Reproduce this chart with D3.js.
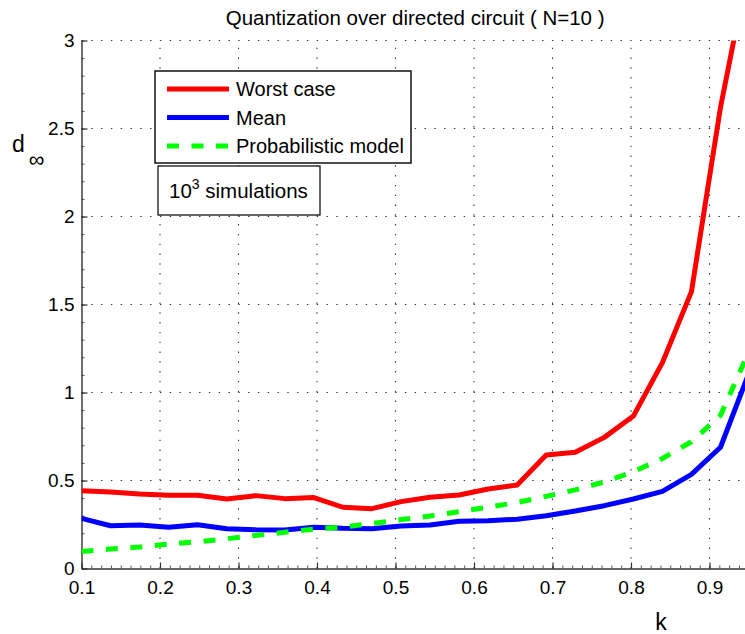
<!DOCTYPE html>
<html>
<head>
<meta charset="utf-8">
<script src="https://cdn.jsdelivr.net/npm/d3@7"></script>
<style>
  html, body { margin: 0; padding: 0; background: #fff; overflow: hidden; }
  svg { display: block; font-family: "Liberation Sans", Arial, sans-serif; }
</style>
</head>
<body>
<div id="chart"><svg></svg></div>
<script>
// k values (sample points of all three curves)
const kValues = [0.1, 0.137, 0.174, 0.211, 0.248, 0.285, 0.322, 0.359, 0.396, 0.433, 0.47, 0.507,
                 0.544, 0.581, 0.618, 0.655, 0.692, 0.729, 0.766, 0.803, 0.84, 0.877, 0.914, 0.951];
const worstCase = [0.442, 0.435, 0.423, 0.416, 0.416, 0.395, 0.414, 0.397, 0.403, 0.348, 0.34, 0.38,
                   0.405, 0.418, 0.452, 0.474, 0.645, 0.66, 0.745, 0.866, 1.17, 1.573, 2.62, 3.45];
const meanValues = [0.285, 0.243, 0.247, 0.234, 0.249, 0.226, 0.22, 0.219, 0.235, 0.228, 0.226, 0.241,
                    0.247, 0.268, 0.272, 0.28, 0.30, 0.327, 0.357, 0.395, 0.438, 0.535, 0.689, 1.12];
const modelValues = [0.096, 0.111, 0.122, 0.139, 0.152, 0.169, 0.188, 0.206, 0.223, 0.236, 0.255, 0.278,
                     0.298, 0.323, 0.348, 0.375, 0.41, 0.447, 0.492, 0.55, 0.625, 0.72, 0.87, 1.24];

const xTicks = [0.1, 0.2, 0.3, 0.4, 0.5, 0.6, 0.7, 0.8, 0.9];
const yTicks = [0, 0.5, 1, 1.5, 2, 2.5, 3];
const seriesNames = ["Worst case", "Mean", "Probabilistic model"];

const width = 745, height = 634;
const plot = { left: 81.5, top: 40.5, bottom: 568.5, right: 748.75 };

const svg = d3.select("#chart svg")
    .attr("width", width)
    .attr("height", height);

svg.append("rect").attr("width", width).attr("height", height).attr("fill", "#fff");

const x = d3.scaleLinear().domain([0.1, 0.95]).range([plot.left, plot.right]);
const y = d3.scaleLinear().domain([0, 3]).range([plot.bottom, plot.top]);

svg.append("clipPath").attr("id", "plot-clip")
    .append("rect")
    .attr("x", plot.left).attr("y", plot.top)
    .attr("width", plot.right - plot.left).attr("height", plot.bottom - plot.top);

// dotted grid
const grid = svg.append("g").attr("class", "grid")
    .attr("stroke", "#333").attr("stroke-width", 1.1).attr("stroke-dasharray", "1.4,8.4");

grid.selectAll(".vgrid").data(xTicks.filter(d => d > 0.1))
    .join("line")
    .attr("x1", d => x(d)).attr("x2", d => x(d))
    .attr("y1", plot.bottom).attr("y2", plot.top);

grid.selectAll(".hgrid").data(yTicks.filter(d => d > 0))
    .join("line")
    .attr("x1", plot.left).attr("x2", plot.right)
    .attr("y1", d => y(d)).attr("y2", d => y(d));

// minor ticks
const minorX = d3.range(0.1, 0.95, 0.0125);
const minorY = d3.range(0, 3.001, 0.1);

svg.append("g")
    .attr("transform", `translate(0,${plot.bottom})`)
    .call(d3.axisBottom(x).tickValues(minorX).tickSize(-3).tickFormat(""))
    .call(g => g.select(".domain").remove())
    .selectAll("line").attr("stroke", "#555");

svg.append("g")
    .attr("transform", `translate(${plot.left},0)`)
    .call(d3.axisLeft(y).tickValues(minorY).tickSize(-3).tickFormat(""))
    .call(g => g.select(".domain").remove())
    .selectAll("line").attr("stroke", "#555");

// main axes
const xAxis = svg.append("g")
    .attr("transform", `translate(0,${plot.bottom})`)
    .call(d3.axisBottom(x).tickValues(xTicks).tickSizeInner(-6).tickSizeOuter(0).tickPadding(12)
        .tickFormat(d3.format(".1f")));

xAxis.select(".domain").attr("stroke", "#333").attr("stroke-width", 1.4);
xAxis.selectAll(".tick line").attr("stroke", "#333").attr("stroke-width", 1.2);
xAxis.selectAll(".tick text")
    .attr("font-size", 19).attr("fill", "#000")
    .attr("font-family", "Liberation Sans, Arial, sans-serif");

const yAxis = svg.append("g")
    .attr("transform", `translate(${plot.left},0)`)
    .call(d3.axisLeft(y).tickValues(yTicks).tickSizeInner(-6).tickSizeOuter(0).tickPadding(7)
        .tickFormat(d => String(d)));

yAxis.select(".domain").attr("stroke", "#333").attr("stroke-width", 1.4);
yAxis.selectAll(".tick line").attr("stroke", "#333").attr("stroke-width", 1.2);
yAxis.selectAll(".tick text")
    .attr("font-size", 19).attr("fill", "#000")
    .attr("font-family", "Liberation Sans, Arial, sans-serif");

// curves
const line = d3.line().x(d => x(d[0])).y(d => y(d[1]));
const series = [
    { name: seriesNames[0], values: worstCase, color: "#ff0000", dash: null },
    { name: seriesNames[1], values: meanValues, color: "#0000ff", dash: null },
    { name: seriesNames[2], values: modelValues, color: "#00ff00", dash: "12,12.5" }
];

const curves = svg.append("g").attr("clip-path", "url(#plot-clip)");
curves.selectAll("path").data(series)
    .join("path")
    .attr("d", s => line(kValues.map((k, i) => [k, s.values[i]])))
    .attr("fill", "none")
    .attr("stroke", s => s.color)
    .attr("stroke-width", 5)
    .attr("stroke-linejoin", "round")
    .attr("stroke-dasharray", s => s.dash);

// title and axis labels
svg.append("text")
    .attr("x", (plot.left + plot.right) / 2).attr("y", 25)
    .attr("text-anchor", "middle")
    .attr("font-size", 20.5)
    .text("Quantization over directed circuit ( N=10 )");

svg.append("text")
    .attr("x", 661).attr("y", 630)
    .attr("text-anchor", "middle")
    .attr("font-size", 23)
    .text("k");

svg.append("text")
    .attr("x", 12).attr("y", 152)
    .attr("font-size", 23)
    .text("d");
svg.append("text")
    .attr("x", 36.5).attr("y", 167)
    .attr("text-anchor", "middle")
    .attr("font-size", 22)
    .text("∞");

// legend
const legend = svg.append("g").attr("class", "legend");
legend.append("rect")
    .attr("x", 155).attr("y", 71).attr("width", 256).attr("height", 92)
    .attr("fill", "#fff").attr("stroke", "#000").attr("stroke-width", 1.4);

const legendRows = legend.selectAll(".row").data(series)
    .join("g")
    .attr("transform", (d, i) => `translate(0,${89 + i * 28.5})`);

legendRows.append("line")
    .attr("x1", 167).attr("x2", 229)
    .attr("stroke", d => d.color)
    .attr("stroke-width", 5)
    .attr("stroke-dasharray", d => d.dash);

legendRows.append("text")
    .attr("x", 236).attr("y", 7)
    .attr("font-size", 20)
    .text(d => d.name);

// simulations note
const note = svg.append("g");
note.append("rect")
    .attr("x", 158).attr("y", 166).attr("width", 162).attr("height", 49)
    .attr("fill", "#fff").attr("stroke", "#000").attr("stroke-width", 1.2);

const noteText = note.append("text")
    .attr("x", 169).attr("y", 198)
    .attr("font-size", 20.5);
noteText.append("tspan").text("10");
noteText.append("tspan").attr("dy", -9).attr("font-size", 14).text("3");
noteText.append("tspan").attr("dy", 9).text(" simulations");
</script>
</body>
</html>
